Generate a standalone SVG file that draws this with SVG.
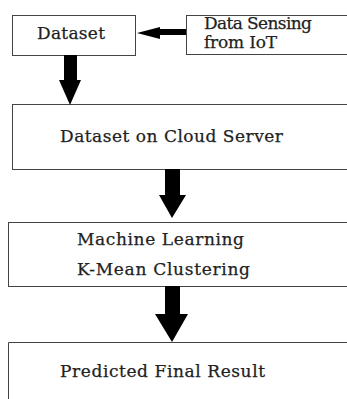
<svg xmlns="http://www.w3.org/2000/svg" width="347" height="399" viewBox="0 0 347 399">
<style>
.box{fill:#fff;stroke:#444;stroke-width:1}
.t{font-family:"DejaVu Serif","Liberation Serif",serif;font-size:17px;fill:#222;stroke:#222;stroke-width:0.25}
.arr{fill:#000}
</style>
<rect width="347" height="399" fill="#fff"/>
<g id="dataset"><rect class="box" x="12.5" y="15.5" width="123" height="40"/><text class="t" x="37" y="39" textLength="68">Dataset</text></g>
<g id="iot"><rect class="box" x="186.5" y="15.5" width="170" height="39"/><text class="t" x="204" y="29" textLength="108">Data Sensing</text><text class="t" x="204" y="48" textLength="73">from IoT</text></g>
<g id="cloud"><rect class="box" x="12.5" y="104.5" width="345" height="65"/><text class="t" x="60" y="142" textLength="223">Dataset on Cloud Server</text></g>
<g id="ml"><rect class="box" x="8.5" y="222.5" width="349" height="64"/><text class="t" x="77" y="245" textLength="167">Machine Learning</text><text class="t" x="77" y="275" textLength="173">K-Mean Clustering</text></g>
<g id="result"><path class="box" d="M8.5 405V342.5H357"/><text class="t" x="60" y="377" textLength="205">Predicted Final Result</text></g>
<g id="connectors">
<polygon class="arr" points="186,29 160,29 160,27 137,33 160,39 160,35 186,35"/>
<polygon class="arr" points="64,55 77,55 77,80 81,80 70,105 59,80 64,80"/>
<polygon class="arr" points="165,169 180,169 180,195 186,195 172,218 159,195 165,195"/>
<polygon class="arr" points="165,286 180,286 180,314 188,314 172,342 155,314 165,314"/>
</g>
</svg>
